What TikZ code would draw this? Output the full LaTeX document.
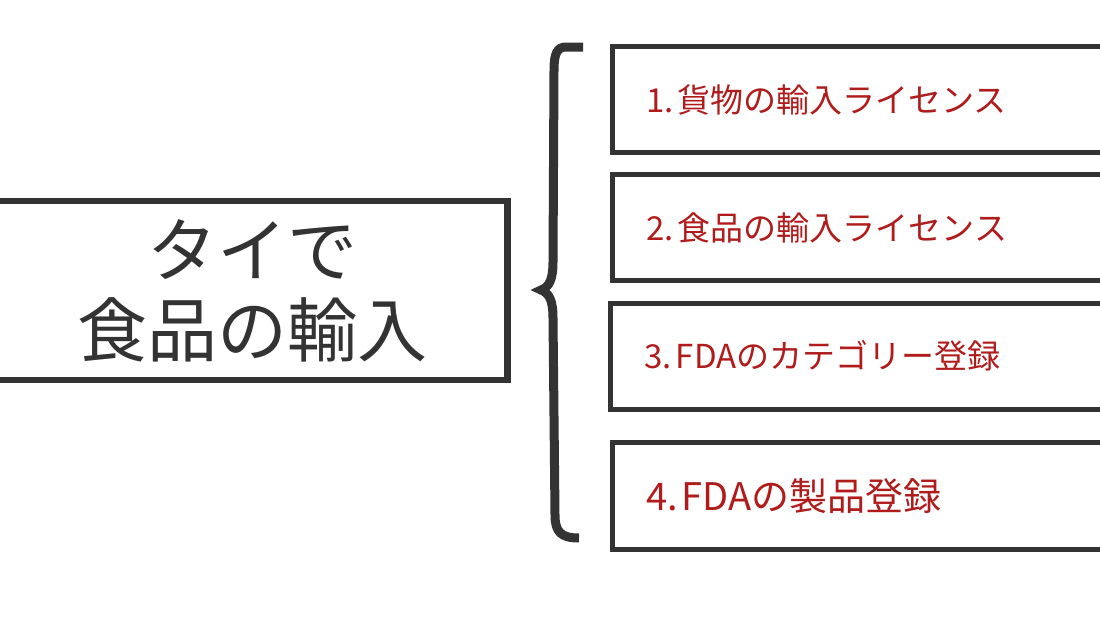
\documentclass[tikz,border=0pt]{standalone}
\usepackage{fontspec}
\setmainfont{Noto Sans CJK JP}
\definecolor{inkgray}{HTML}{333333}
\definecolor{stepred}{HTML}{B01C1C}
\begin{document}
\begin{tikzpicture}[x=1pt,y=-1pt,
    titlebox/.style={draw=inkgray,line width=6.5pt,minimum width=511pt,minimum height=179pt,
        align=center,text=inkgray,font=\fontsize{70}{80}\selectfont},
    itembox/.style={draw=inkgray,line width=5pt,anchor=north west,minimum height=106pt,
        text width=470pt,inner xsep=34pt,align=left,text=stepred,font=\fontsize{33}{40}\selectfont}]
  \useasboundingbox (0,0) rectangle (1100,616);
  \clip (0,0) rectangle (1100,616);
  % left box
  \node[titlebox] (title) at (252,290.5) {タイで\\食品の輸入};
  % the four steps
  \node[itembox] (lic1) at (609.5,44) {1.\hspace{0.12em}貨物の輸入ライセンス};
  \node[itembox] (lic2) at (610,172) {2.\hspace{0.12em}食品の輸入ライセンス};
  \node[itembox,font=\fontsize{33}{40}\selectfont] (cat3) at (608,300.5) {3.\hspace{0.12em}FDAのカテゴリー登録};
  \node[itembox,font=\fontsize{38}{46}\selectfont,minimum height=107.5pt] (reg4) at (610,439.5) {4.\hspace{0.1em}FDAの製品登録};
  % brace
  \draw[inkgray,line width=9pt] (583,47) -- (566,47) .. controls (557,47) and (554,54) .. (554,70)
      -- (553,262) .. controls (553,280) and (549,287) .. (541,290)
      .. controls (549,293) and (553,300) .. (553,318)
      -- (555,515) .. controls (555,532) and (561,538) .. (579,538);
\end{tikzpicture}
\end{document}
